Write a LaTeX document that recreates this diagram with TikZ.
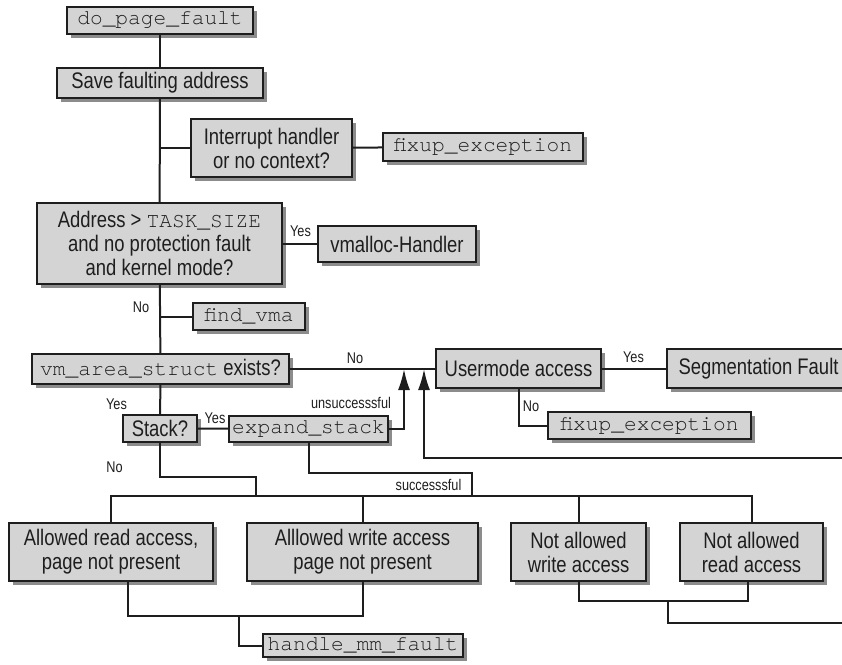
\documentclass[tikz,border=0pt]{standalone}
\usepackage{fontspec}
\setmainfont[FakeStretch=0.82]{Liberation Sans}
\setmonofont{texgyrecursor-regular.otf}
\usetikzlibrary{arrows.meta,shadows}
\definecolor{boxfill}{HTML}{D4D4D4}
\definecolor{shadowgray}{HTML}{8C8C8C}
\definecolor{ink}{HTML}{1E1E1E}
\newcommand\boxfont{\fontsize{22.5}{24}\selectfont}
\newcommand\lblfont{\fontsize{15.5}{17}\selectfont}
\newcommand\codefont{\fontsize{21.2}{24}\selectfont\ttfamily}
\tikzset{
  box/.style={draw=ink, line width=1.4pt, fill=boxfill, text=ink, inner sep=0pt,
    align=center, font=\boxfont,
    general shadow={fill=shadowgray, draw=none, shadow xshift=4pt, shadow yshift=-4pt}},
  conn/.style={draw=ink, line width=2pt},
  lbl/.style={text=ink, font=\lblfont, inner sep=0pt},
  arr/.style={conn, -{Latex[length=21pt,width=12pt]}}
}
\begin{document}
\begin{tikzpicture}[x=1pt,y=-1pt]
\useasboundingbox (0,0) rectangle (842,664);
\clip (0,0) rectangle (842,664);
% boxes
\node[box, minimum width=186pt, minimum height=27pt] (dpf) at (160,20.5) {{\codefont do\_page\_fault}};
\node[box, minimum width=206pt, minimum height=30pt] (save) at (160,83) {Save faulting address};
\node[box, minimum width=161pt, minimum height=58pt] (intr) at (271.5,148) {Interrupt handler\\or no context?};
\node[box, minimum width=200pt, minimum height=28pt] (fix1) at (483,147) {{\codefont fixup\_exception}};
\node[box, minimum width=245pt, minimum height=81pt] (addr) at (159.5,243.5) {Address > {\codefont TASK\_SIZE}\\and no protection fault\\and kernel mode?};
\node[box, minimum width=158pt, minimum height=36pt] (vmalloc) at (397,244) {vmalloc-Handler};
\node[box, minimum width=112pt, minimum height=27pt] (findvma) at (249,316.5) {{\codefont find\_vma}};
\node[box, minimum width=257pt, minimum height=30pt] (vmarea) at (160.5,369) {{\codefont vm\_area\_struct} exists?};
\node[box, minimum width=165pt, minimum height=39pt] (user) at (518.5,368.5) {Usermode access};
\node[box, minimum width=183pt, minimum height=39pt] (seg) at (758.5,368.5) {Segmentation Fault};
\node[box, minimum width=74pt, minimum height=27pt] (stack) at (160,428.5) {Stack?};
\node[box, minimum width=159pt, minimum height=26pt] (expand) at (308.5,429) {{\codefont expand\_stack}};
\node[box, minimum width=203pt, minimum height=27pt] (fix2) at (649.5,425.5) {{\codefont fixup\_exception}};
\node[box, minimum width=204pt, minimum height=58pt] (read) at (111,552) {Allowed read access,\\page not present};
\node[box, minimum width=231pt, minimum height=58pt] (write) at (362.5,552) {Alllowed write access\\page not present};
\node[box, minimum width=135pt, minimum height=58pt] (nwrite) at (578.5,552) {Not allowed\\write access};
\node[box, minimum width=143pt, minimum height=58pt] (nread) at (751.5,552) {Not allowed\\read access};
\node[box, minimum width=200pt, minimum height=23pt] (hmm) at (363,645.5) {{\codefont handle\_mm\_fault}};
% helper coordinates
\coordinate (bus) at (0,496);
\coordinate (sk) at (256,477);
\coordinate (ex) at (472,473);
\coordinate (ua) at (404,369);
\coordinate (ub) at (424,369);
\coordinate (rb) at (424,458);
\coordinate (redge) at (842,458);
\coordinate (lowbus) at (0,616);
\coordinate (hb) at (239,616);
\coordinate (nb) at (0,601);
\coordinate (nj) at (668,601);
\coordinate (nedge) at (842,623);
% connectors
\draw[conn] (dpf) -- (save);
\draw[conn] (save) -- (addr);
\draw[conn] (save.south |- intr.west) -- (intr.west);
\draw[conn] (intr) -- (fix1);
\draw[conn] (addr.east |- vmalloc.west) -- (vmalloc.west);
\draw[conn] (addr) -- (vmarea);
\draw[conn] (addr.south |- findvma.west) -- (findvma.west);
\draw[conn] (vmarea.east) -- (user.west |- vmarea.east);
\draw[conn] (user) -- (seg);
\draw[conn] (user.south) |- (fix2.west);
\draw[conn] (vmarea) -- (stack);
\draw[conn] (stack) -- (expand);
\draw[arr] (expand.east) -| (ua);
\draw[arr] (redge) -- (rb) -- (ub);
\draw[conn] (stack.south) |- (sk) -- (sk |- bus);
\draw[conn] (expand.south) |- (ex) -- (ex |- bus);
\draw[conn] (read.north) |- (bus -| nread.north) -- (nread.north);
\draw[conn] (write.north) -- (write.north |- bus);
\draw[conn] (nwrite.north) -- (nwrite.north |- bus);
\draw[conn] ([xshift=17pt]read.south) |- (lowbus -| write.south) -- (write.south);
\draw[conn] (hb) |- (hmm.west);
\draw[conn] (nwrite.south) |- (nb -| 748,0) -- ([xshift=-3.5pt]nread.south);
\draw[conn] (nj) |- (nedge);
% labels
\node[lbl] at (300.5,231) {Yes};
\node[lbl] at (141,307.5) {No};
\node[lbl] at (355,358) {No};
\node[lbl] at (116.5,404) {Yes};
\node[lbl] at (215,418) {Yes};
\node[lbl] at (351,402.5) {unsuccesssful};
\node[lbl] at (114.5,467) {No};
\node[lbl] at (428.5,485) {successsful};
\node[lbl] at (633.5,357) {Yes};
\node[lbl] at (531,406) {No};
\end{tikzpicture}
\end{document}
